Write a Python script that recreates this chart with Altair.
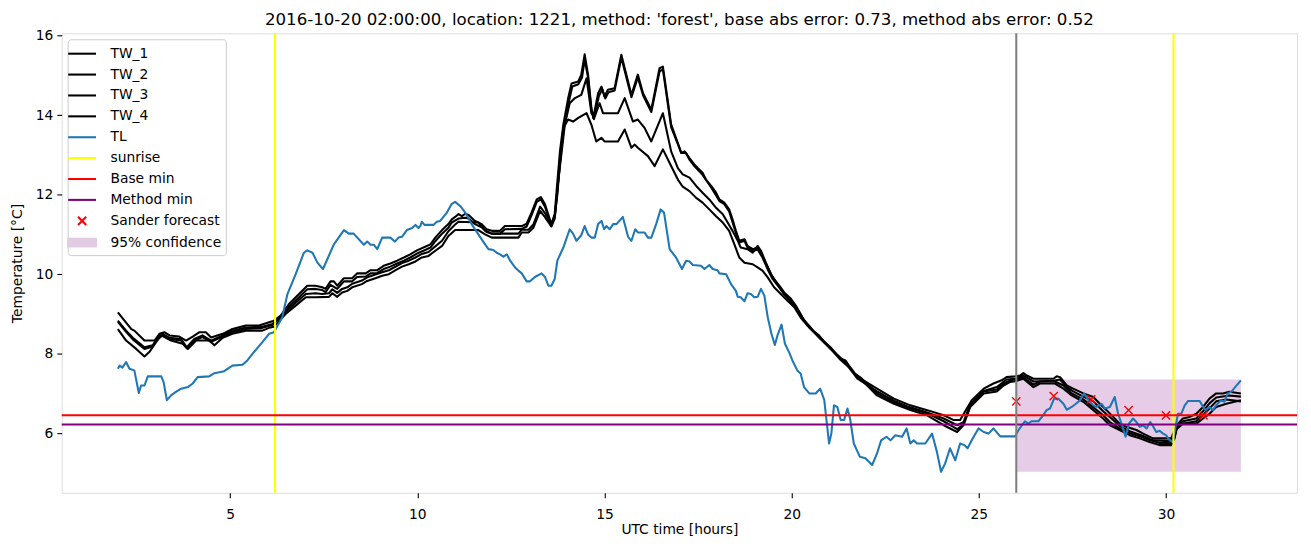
import altair as alt
import pandas as pd

TITLE = "2016-10-20 02:00:00, location: 1221, method: 'forest', base abs error: 0.73, method abs error: 0.52"

# (hour, temperature) pairs
tw1 = [(2.00,9.04),(2.36,8.62),(2.44,8.58),(2.71,8.33),(2.98,8.33),(3.11,8.50),(3.24,8.54),(3.38,8.46),(3.64,8.43),(3.82,8.33),(4.00,8.43),(4.18,8.54),(4.35,8.54),(4.49,8.41),(4.80,8.50),(5.06,8.62),(5.42,8.71),(5.77,8.71),(6.04,8.79),(6.17,8.83),(6.35,8.96),(6.57,9.25),(6.84,9.50),(7.06,9.71),(7.28,9.71),(7.46,9.67),(7.55,9.63),(7.68,9.82),(7.77,9.82),(7.86,9.71),(8.04,9.90),(8.26,9.90),(8.39,10.02),(8.62,10.02),(8.75,10.10),(8.93,10.10),(9.10,10.21),(9.28,10.27),(9.46,10.34),(9.64,10.42),(9.81,10.50),(9.99,10.60),(10.21,10.69),(10.35,10.75),(10.48,10.92),(10.66,11.11),(10.83,11.26),(10.92,11.38),(11.01,11.44),(11.10,11.51),(11.19,11.46),(11.28,11.52),(11.37,11.49),(11.54,11.34),(11.72,11.26),(11.85,11.13),(11.99,11.09),(12.21,11.09),(12.34,11.21),(12.79,11.21),(12.92,11.27),(13.05,11.55),(13.19,11.88),(13.30,11.94),(13.41,11.76),(13.58,11.26),(13.67,11.51),(13.72,12.09),(13.81,13.09),(13.90,13.76),(14.03,14.43),(14.12,14.80),(14.30,14.85),(14.38,15.02),(14.47,15.53),(14.56,15.02),(14.65,14.18),(14.70,13.93),(14.83,14.55),(14.92,14.72),(15.00,14.47),(15.09,14.64),(15.27,14.68),(15.45,15.52),(15.63,14.85),(15.72,14.51),(15.89,15.02),(16.03,14.55),(16.25,14.14),(16.47,15.18),(16.56,15.22),(16.78,13.77),(16.96,13.30),(17.05,13.05),(17.14,13.09),(17.27,12.92),(17.40,12.76),(17.49,12.67),(17.62,12.55),(17.71,12.38),(17.85,12.22),(17.98,12.05),(18.07,11.88),(18.20,11.80),(18.33,11.63),(18.42,11.38),(18.51,11.09),(18.60,10.84),(18.74,10.88),(18.82,10.71),(18.96,10.63),(19.09,10.67),(19.22,10.46),(19.36,10.17),(19.49,9.92),(19.67,9.71),(19.80,9.54),(19.98,9.38),(20.11,9.21),(20.24,9.00),(20.33,8.83),(20.47,8.70),(20.60,8.55),(20.73,8.46),(20.87,8.29),(21.04,8.16),(21.18,8.00),(21.31,7.87),(21.44,7.83),(21.53,7.70),(21.66,7.54),(21.75,7.42),(22.28,7.12),(22.73,6.87),(23.17,6.70),(23.62,6.58),(24.06,6.45),(24.33,6.33),(24.50,6.33),(24.68,6.62),(24.81,6.83),(25.13,7.12),(25.39,7.25),(25.61,7.33),(25.74,7.41),(25.97,7.43),(26.10,7.45),(26.19,7.51),(26.28,7.45),(26.46,7.37),(26.99,7.37),(27.08,7.43),(27.17,7.41),(27.35,7.20),(27.52,7.12),(27.79,7.00),(28.06,6.91),(28.23,6.74),(28.41,6.58),(28.59,6.41),(28.76,6.24),(28.94,6.16),(29.21,6.08),(29.39,5.99),(29.65,5.87),(30.14,5.87),(30.19,5.99),(30.32,6.24),(30.45,6.37),(30.63,6.41),(30.81,6.49),(30.99,6.66),(31.16,6.87),(31.34,7.00),(31.52,7.00),(31.69,7.04),(32.00,7.00)]

tw2 = [(2.00,8.83),(2.22,8.58),(2.40,8.40),(2.71,8.16),(2.93,8.21),(3.07,8.41),(3.20,8.50),(3.38,8.40),(3.69,8.37),(3.84,8.16),(4.04,8.37),(4.26,8.46),(4.49,8.33),(4.80,8.46),(5.06,8.58),(5.42,8.66),(5.86,8.68),(6.13,8.75),(6.35,8.92),(6.57,9.18),(6.84,9.42),(7.06,9.62),(7.28,9.63),(7.46,9.60),(7.55,9.55),(7.68,9.73),(7.86,9.63),(8.04,9.82),(8.26,9.82),(8.39,9.93),(8.62,9.94),(8.75,10.02),(8.93,10.03),(9.10,10.13),(9.28,10.19),(9.46,10.27),(9.64,10.34),(9.81,10.42),(9.99,10.52),(10.21,10.61),(10.35,10.67),(10.48,10.83),(10.66,11.02),(10.83,11.17),(10.92,11.30),(11.10,11.40),(11.28,11.42),(11.37,11.40),(11.54,11.26),(11.72,11.18),(11.85,11.06),(11.99,11.02),(12.21,11.02),(12.34,11.13),(12.79,11.14),(12.92,11.20),(13.05,11.48),(13.19,11.82),(13.30,11.88),(13.41,11.70),(13.58,11.22),(13.67,11.45),(13.74,12.00),(13.83,13.05),(13.92,13.70),(14.05,14.35),(14.14,14.72),(14.30,14.78),(14.40,14.95),(14.47,15.40),(14.56,14.95),(14.65,14.12),(14.72,13.90),(14.85,14.48),(14.94,14.65),(15.02,14.42),(15.11,14.58),(15.27,14.62),(15.45,15.45),(15.63,14.78),(15.72,14.45),(15.89,14.95),(16.03,14.50),(16.25,14.08),(16.47,15.10),(16.56,15.15),(16.78,13.70),(17.05,13.05),(17.18,13.05),(17.27,12.88),(17.40,12.72),(17.62,12.50),(17.85,12.18),(18.07,11.84),(18.20,11.76),(18.33,11.58),(18.51,11.04),(18.60,10.80),(18.74,10.84),(18.82,10.67),(18.96,10.58),(19.09,10.62),(19.22,10.42),(19.36,10.12),(19.49,9.88),(19.67,9.66),(19.80,9.50),(19.98,9.33),(20.11,9.17),(20.24,8.96),(20.47,8.66),(20.73,8.42),(21.04,8.12),(21.31,7.84),(21.53,7.66),(21.75,7.38),(22.28,7.05),(22.73,6.82),(23.17,6.65),(23.62,6.52),(24.06,6.37),(24.42,6.20),(24.59,6.28),(24.77,6.72),(25.13,7.06),(25.48,7.16),(25.74,7.35),(25.97,7.37),(26.19,7.45),(26.46,7.30),(26.99,7.32),(27.17,7.35),(27.35,7.16),(27.52,7.05),(27.79,6.92),(28.06,6.80),(28.32,6.55),(28.59,6.33),(28.76,6.18),(29.03,6.05),(29.39,5.93),(29.65,5.82),(30.14,5.80),(30.23,5.95),(30.32,6.20),(30.45,6.30),(30.81,6.37),(30.99,6.55),(31.16,6.75),(31.34,6.90),(31.69,6.95),(32.00,6.92)]

tw3 = [(2.00,8.80),(2.22,8.55),(2.40,8.36),(2.71,8.12),(2.93,8.18),(3.07,8.38),(3.20,8.46),(3.38,8.37),(3.69,8.33),(3.84,8.14),(4.04,8.33),(4.26,8.42),(4.49,8.30),(4.80,8.43),(5.06,8.54),(5.42,8.62),(5.86,8.65),(6.13,8.72),(6.48,9.05),(6.75,9.28),(7.02,9.50),(7.28,9.52),(7.46,9.50),(7.64,9.52),(7.73,9.62),(7.86,9.53),(7.99,9.63),(8.13,9.67),(8.26,9.76),(8.52,9.84),(8.66,9.92),(8.88,9.99),(9.06,10.05),(9.24,10.10),(9.42,10.19),(9.59,10.28),(9.77,10.34),(9.95,10.42),(10.12,10.51),(10.30,10.56),(10.48,10.70),(10.66,10.84),(10.83,11.08),(11.01,11.25),(11.10,11.32),(11.63,11.30),(11.81,11.10),(11.99,11.02),(12.70,11.02),(12.79,11.12),(12.97,11.12),(13.10,11.25),(13.28,11.70),(13.40,11.55),(13.58,11.25),(13.67,11.45),(13.76,12.30),(13.94,13.76),(14.07,14.30),(14.21,14.43),(14.38,14.51),(14.52,14.93),(14.65,14.05),(14.74,13.97),(14.87,14.30),(14.96,14.05),(15.36,14.05),(15.54,14.43),(15.76,13.84),(15.89,13.89),(16.07,13.68),(16.25,13.34),(16.56,14.05),(16.78,13.09),(16.96,12.67),(17.09,12.51),(17.27,12.43),(17.45,12.22),(17.62,12.05),(17.80,11.88),(17.98,11.67),(18.16,11.51),(18.29,11.30),(18.42,11.09),(18.56,10.84),(18.64,10.67),(18.82,10.63),(18.96,10.54),(19.09,10.71),(19.18,10.59),(19.31,10.29),(19.45,10.00),(19.62,9.75),(19.80,9.50),(19.98,9.30),(20.15,9.10),(20.33,8.85),(20.55,8.60),(20.77,8.40),(21.00,8.18),(21.22,7.97),(21.44,7.78),(21.66,7.52),(21.84,7.40),(22.28,7.00),(22.73,6.78),(23.17,6.62),(23.62,6.50),(24.06,6.30),(24.42,6.10),(24.59,6.22),(24.77,6.70),(25.13,7.05),(25.48,7.10),(25.66,7.25),(25.84,7.33),(26.19,7.40),(26.46,7.22),(26.63,7.30),(27.03,7.30),(27.26,7.20),(27.48,7.00),(27.79,6.85),(28.06,6.65),(28.32,6.45),(28.50,6.28),(28.76,6.12),(29.03,6.00),(29.30,5.92),(29.56,5.83),(29.83,5.75),(30.14,5.75),(30.23,5.90),(30.28,6.10),(30.45,6.24),(30.81,6.30),(30.99,6.45),(31.16,6.62),(31.34,6.80),(31.61,6.85),(32.00,6.80)]

tw4 = [(2.00,8.62),(2.22,8.33),(2.49,8.12),(2.71,7.93),(2.84,8.04),(3.02,8.29),(3.16,8.46),(3.42,8.33),(3.73,8.25),(3.87,8.12),(4.09,8.33),(4.44,8.33),(4.58,8.21),(4.80,8.40),(5.06,8.50),(5.42,8.58),(5.86,8.58),(6.04,8.65),(6.17,8.68),(6.48,9.00),(6.75,9.21),(7.02,9.42),(7.28,9.42),(7.64,9.43),(7.73,9.52),(7.86,9.43),(7.99,9.54),(8.13,9.58),(8.26,9.67),(8.52,9.75),(8.66,9.83),(8.88,9.90),(9.06,9.96),(9.24,10.00),(9.42,10.10),(9.59,10.19),(9.77,10.25),(9.95,10.32),(10.12,10.42),(10.30,10.46),(10.48,10.59),(10.66,10.71),(10.83,10.96),(11.01,11.11),(11.63,11.11),(11.81,11.00),(11.99,10.92),(12.70,10.92),(12.79,11.05),(12.97,11.05),(13.10,11.17),(13.28,11.59),(13.40,11.45),(13.58,11.20),(13.67,11.40),(13.78,12.50),(13.90,13.68),(14.03,13.89),(14.16,13.84),(14.30,13.93),(14.52,14.05),(14.65,13.76),(14.78,13.34),(14.92,13.43),(15.00,13.34),(15.36,13.34),(15.54,13.64),(15.72,13.18),(15.81,13.26),(15.89,13.18),(16.16,12.97),(16.34,12.72),(16.56,13.14),(16.78,12.72),(16.96,12.38),(17.09,12.20),(17.27,12.09),(17.45,11.92),(17.62,11.80),(17.80,11.63),(17.98,11.46),(18.16,11.30),(18.33,11.09),(18.47,10.75),(18.60,10.42),(18.74,10.29),(18.96,10.25),(19.09,10.17),(19.22,10.09),(19.36,9.92),(19.53,9.67),(19.71,9.50),(19.89,9.33),(20.07,9.17),(20.24,8.91),(20.42,8.71),(20.60,8.54),(20.77,8.37),(20.95,8.21),(21.13,8.04),(21.31,7.87),(21.49,7.70),(21.66,7.50),(21.84,7.37),(22.28,6.95),(22.73,6.74),(23.17,6.58),(23.62,6.45),(24.06,6.20),(24.42,6.03),(24.59,6.20),(24.77,6.66),(25.13,7.00),(25.48,7.05),(25.66,7.20),(25.84,7.29),(25.97,7.31),(26.19,7.37),(26.46,7.16),(26.63,7.25),(27.03,7.25),(27.26,7.12),(27.48,6.95),(27.79,6.79),(28.06,6.58),(28.32,6.37),(28.50,6.20),(28.76,6.08),(29.03,5.95),(29.30,5.87),(29.56,5.78),(29.83,5.70),(30.14,5.70),(30.23,5.87),(30.28,6.16),(30.45,6.24),(30.81,6.24),(30.99,6.37),(31.16,6.49),(31.34,6.66),(31.61,6.74),(32.00,6.83)]

tl = [(2.00,7.62),(2.05,7.70),(2.12,7.65),(2.22,7.79),(2.31,7.62),(2.44,7.58),(2.56,7.01),(2.62,7.20),(2.71,7.20),(2.80,7.43),(3.16,7.43),(3.22,7.29),(3.31,6.83),(3.42,6.95),(3.55,7.04),(3.69,7.12),(3.87,7.16),(4.00,7.25),(4.13,7.41),(4.44,7.43),(4.58,7.51),(4.84,7.56),(4.93,7.62),(5.06,7.70),(5.33,7.72),(5.46,7.83),(5.60,8.00),(5.86,8.29),(6.04,8.50),(6.17,8.54),(6.39,8.91),(6.53,9.50),(6.75,10.00),(6.97,10.54),(7.06,10.60),(7.20,10.54),(7.33,10.29),(7.48,10.13),(7.77,10.75),(8.04,11.11),(8.17,11.02),(8.30,11.02),(8.57,10.74),(8.66,10.82),(8.75,10.74),(8.84,10.74),(8.93,10.63),(9.06,10.92),(9.28,10.92),(9.40,10.82),(9.50,10.92),(9.59,10.94),(9.72,11.11),(9.86,11.16),(9.95,11.24),(10.03,11.16),(10.08,11.21),(10.12,11.32),(10.19,11.24),(10.43,11.24),(10.52,11.32),(10.61,11.34),(10.79,11.55),(10.92,11.77),(11.01,11.82),(11.15,11.71),(11.28,11.55),(11.45,11.26),(11.63,11.00),(11.81,10.75),(11.90,10.63),(12.03,10.61),(12.12,10.54),(12.21,10.50),(12.30,10.44),(12.39,10.50),(12.48,10.34),(12.61,10.17),(12.70,10.09),(12.79,10.02),(12.92,9.82),(13.01,9.82),(13.14,9.93),(13.32,10.02),(13.41,9.93),(13.50,9.71),(13.58,9.71),(13.67,9.88),(13.74,10.34),(13.90,10.67),(14.07,11.13),(14.16,11.02),(14.25,10.84),(14.38,10.98),(14.47,11.21),(14.56,11.00),(14.65,10.92),(14.74,10.92),(14.83,11.26),(14.92,11.34),(14.99,11.13),(15.05,11.21),(15.14,11.13),(15.23,11.26),(15.32,11.26),(15.49,11.44),(15.63,10.94),(15.72,10.84),(15.82,11.13),(15.89,11.05),(16.07,11.05),(16.16,10.92),(16.25,10.92),(16.38,11.26),(16.50,11.63),(16.59,11.55),(16.74,10.63),(16.91,10.42),(17.07,10.13),(17.18,10.34),(17.27,10.32),(17.36,10.23),(17.58,10.21),(17.67,10.13),(17.80,10.23),(17.89,10.13),(18.02,10.10),(18.07,10.02),(18.25,10.00),(18.38,9.75),(18.51,9.58),(18.56,9.43),(18.64,9.42),(18.74,9.32),(18.82,9.52),(18.91,9.50),(19.00,9.42),(19.09,9.43),(19.18,9.63),(19.27,9.46),(19.36,8.92),(19.46,8.50),(19.55,8.22),(19.62,8.46),(19.73,8.73),(19.82,8.25),(19.93,8.04),(20.02,7.83),(20.15,7.58),(20.24,7.50),(20.33,7.16),(20.47,7.00),(20.64,7.00),(20.76,7.12),(20.87,6.84),(21.00,5.74),(21.06,5.99),(21.13,6.70),(21.22,6.66),(21.31,6.33),(21.40,6.33),(21.49,6.62),(21.56,6.37),(21.66,5.74),(21.82,5.41),(21.97,5.37),(22.15,5.20),(22.28,5.49),(22.39,5.82),(22.53,5.91),(22.64,5.82),(22.77,5.95),(22.95,5.91),(23.07,6.12),(23.17,5.74),(23.26,5.82),(23.35,5.74),(23.57,5.74),(23.75,5.99),(23.88,5.53),(23.99,5.03),(24.10,5.24),(24.23,5.62),(24.37,5.32),(24.50,5.74),(24.61,5.70),(24.70,5.62),(24.81,5.82),(24.99,6.12),(25.13,6.03),(25.26,5.99),(25.39,6.12),(25.57,5.92),(25.97,5.92),(26.06,6.08),(26.23,6.30),(26.32,6.24),(26.41,6.30),(26.59,6.30),(26.72,6.45),(26.81,6.58),(26.90,6.62),(27.01,6.87),(27.12,6.87),(27.26,6.74),(27.35,6.59),(27.48,6.66),(27.62,6.76),(27.70,6.83),(27.81,7.00),(27.93,6.83),(28.06,6.70),(28.14,6.66),(28.28,6.74),(28.37,6.62),(28.50,6.66),(28.63,6.91),(28.72,6.49),(28.81,6.24),(28.92,5.91),(29.01,6.24),(29.12,6.37),(29.21,6.28),(29.30,6.16),(29.39,6.20),(29.48,6.12),(29.58,6.28),(29.65,6.18),(29.74,6.03),(29.83,6.06),(29.92,5.99),(30.00,5.95),(30.10,5.82),(30.17,5.78),(30.23,6.03),(30.32,6.49),(30.41,6.49),(30.50,6.70),(30.59,6.81),(30.90,6.81),(30.99,6.66),(31.06,6.58),(31.16,6.66),(31.25,6.58),(31.34,6.70),(31.47,6.83),(31.56,6.79),(31.65,7.00),(31.74,7.04),(32.00,7.33)]

sunrise_hours = [6.2, 30.2]
base_min = [6.45]
method_min = [6.22]
forecast_start = [26.0]
sander_hours = [26, 27, 28, 29, 30, 31]
sander_temps = [6.80, 6.93, 6.85, 6.58, 6.45, 6.45]
conf_start = [26.0]
conf_end = [32.0]
conf_low = [5.03]
conf_high = [7.35]

legend_labels = ["TW_1", "TW_2", "TW_3", "TW_4", "TL", "sunrise", "Base min",
                 "Method min", "Sander forecast", "95% confidence"]
legend_strokes = ["#000000", "#000000", "#000000", "#000000", "#1f77b4", "#ffff00",
                  "#ff0000", "#800080", "#ff0000", "#e2cce4"]
legend_fills = ["transparent"] * 9 + ["#e2cce4"]
LINE_SYM = "M-1.556,0L1.556,0"
X_SYM = "M-0.46,-0.46L0.46,0.46M0.46,-0.46L-0.46,0.46"
RECT_SYM = "M-1.556,-0.42L1.556,-0.42L1.556,0.42L-1.556,0.42Z"
legend_shapes = [LINE_SYM] * 8 + [X_SYM, RECT_SYM]

FONT = "DejaVu Sans"

tw_rows = []
for name, series in zip(["TW_1", "TW_2", "TW_3", "TW_4"], [tw1, tw2, tw3, tw4]):
    for h, t in series:
        tw_rows.append({"hour": h, "temp": t, "series": name})
tw_df = pd.DataFrame(tw_rows)
tl_df = pd.DataFrame({"hour": [p[0] for p in tl], "temp": [p[1] for p in tl]})

xscale = alt.Scale(domain=[0.5, 33.5], nice=False, zero=False)
yscale = alt.Scale(domain=[4.50, 16.06], nice=False, zero=False)

xaxis = alt.Axis(values=[5, 10, 15, 20, 25, 30], format="d", grid=False, domain=False,
                 tickSize=4.86, tickWidth=1.1, tickColor="black",
                 labelFont=FONT, labelFontSize=13.9, labelColor="black", labelPadding=10,
                 title="UTC time [hours]", titleFont=FONT, titleFontSize=13.9,
                 titleFontWeight="normal", titleColor="black", titlePadding=1)
yaxis = alt.Axis(values=[6, 8, 10, 12, 14, 16], format="d", grid=False, domain=False,
                 tickSize=4.86, tickWidth=1.1, tickColor="black",
                 labelFont=FONT, labelFontSize=13.9, labelColor="black", labelPadding=4,
                 title="Temperature [°C]", titleFont=FONT, titleFontSize=13.9,
                 titleFontWeight="normal", titleColor="black", titlePadding=11)

X = alt.X("hour:Q", scale=xscale, axis=xaxis)
Y = alt.Y("temp:Q", scale=yscale, axis=yaxis)

band = alt.Chart(pd.DataFrame({"start": conf_start, "end": conf_end,
                               "low": conf_low, "high": conf_high})).mark_rect(
    color="#800080", opacity=0.2).encode(
    x=alt.X("start:Q", scale=xscale, axis=xaxis), x2="end:Q",
    y=alt.Y("low:Q", scale=yscale, axis=yaxis), y2="high:Q")

tw_lines = alt.Chart(tw_df).mark_line(color="black", strokeWidth=2.08, strokeJoin="round").encode(
    x=X, y=Y, detail="series:N", order="hour:Q")

tl_line = alt.Chart(tl_df).mark_line(color="#1f77b4", strokeWidth=2.08, strokeJoin="round").encode(
    x=X, y=Y, order="hour:Q")

sunrise = alt.Chart(pd.DataFrame({"hour": sunrise_hours})).mark_rule(
    color="#ffff00", strokeWidth=2.08).encode(x=X)

base_rule = alt.Chart(pd.DataFrame({"temp": base_min})).mark_rule(
    color="#ff0000", strokeWidth=2.08).encode(y=Y)
method_rule = alt.Chart(pd.DataFrame({"temp": method_min})).mark_rule(
    color="#800080", strokeWidth=2.08).encode(y=Y)

sander = alt.Chart(pd.DataFrame({"hour": sander_hours, "temp": sander_temps})).mark_point(
    shape="M-1,-1L1,1M1,-1L-1,1", filled=False, color="#ff0000", size=69,
    strokeWidth=1.4, opacity=1).encode(x=X, y=Y)

gray_rule = alt.Chart(pd.DataFrame({"hour": forecast_start})).mark_rule(
    color="#808080", strokeWidth=2.08).encode(x=X)

leg = alt.Legend(title=None, orient="top-left", offset=6, symbolSize=324,
                 symbolStrokeWidth=2.08,
                 labelFont=FONT, labelFontSize=13.9, labelColor="black",
                 labelOffset=18, rowPadding=3, padding=4,
                 strokeColor="#cccccc", fillColor="white", cornerRadius=3)

legend_layer = alt.Chart(pd.DataFrame({"label": legend_labels})).transform_filter(
    "false").mark_point(filled=True, opacity=1).encode(
    fill=alt.Fill("label:N", scale=alt.Scale(domain=legend_labels, range=legend_fills),
                  legend=leg, sort=legend_labels),
    stroke=alt.Stroke("label:N", scale=alt.Scale(domain=legend_labels, range=legend_strokes),
                      legend=leg, sort=legend_labels),
    shape=alt.Shape("label:N", scale=alt.Scale(domain=legend_labels, range=legend_shapes),
                    legend=leg, sort=legend_labels))

chart = alt.layer(band, tw_lines, tl_line, sunrise, base_rule, method_rule, sander,
                  gray_rule, legend_layer).properties(
    width=1242, height=462,
    title=alt.TitleParams(TITLE, font=FONT, fontSize=16.7, fontWeight="normal",
                          color="black", anchor="middle", offset=5, dy=22,
                          baseline="bottom", frame="group"),
    padding={"left": 54, "top": 24, "right": 6, "bottom": 45},
    autosize=alt.AutoSizeParams(type="none"),
).configure_view(stroke="black", strokeWidth=1.1).configure(background="white")

chart.save("out.html", embed_options={"renderer": "svg", "actions": False})
